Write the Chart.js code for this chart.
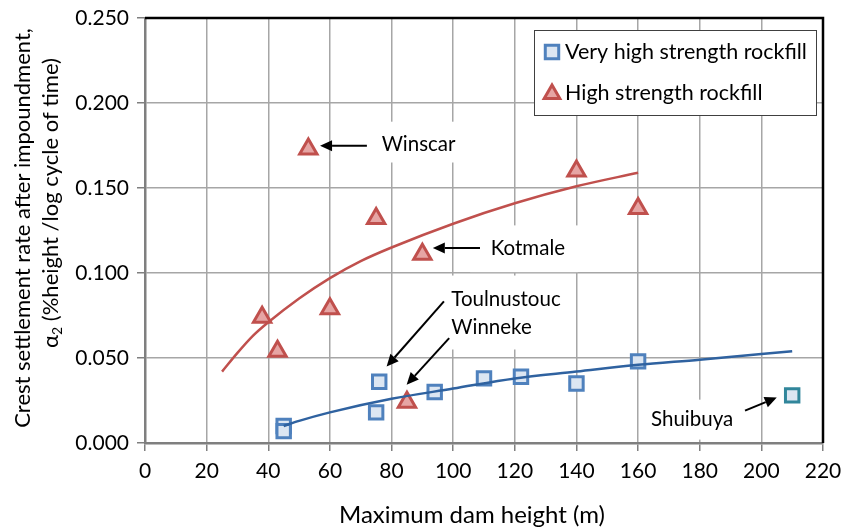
<!DOCTYPE html>
<html>
<head>
<meta charset="utf-8">
<script src="https://cdn.jsdelivr.net/npm/chart.js@4.4.1/dist/chart.umd.min.js"></script>
<style>
    html, body { margin: 0; padding: 0; background: #fff; }
    #wrap { width: 843px; height: 529px; }
</style>
</head>
<body>
<div id="wrap"><canvas id="myChart" width="843" height="529"></canvas></div>
<script>
// Very high strength rockfill (squares)
const vhsHeight = [45, 45, 75, 76, 94, 110, 122, 140, 160];
const vhsRate = [0.010, 0.007, 0.018, 0.036, 0.030, 0.038, 0.039, 0.035, 0.048];
// Shuibuya (square with teal outline)
const shuiHeight = [210];
const shuiRate = [0.028];
// High strength rockfill (triangles)
const hsHeight = [38, 43, 53, 60, 75, 85, 90, 140, 160];
const hsRate = [0.074, 0.054, 0.173, 0.079, 0.132, 0.024, 0.111, 0.160, 0.138];
// trend lines
const vhsTrendX = [45, 50, 60, 80, 100, 120, 140, 160, 180, 210];
const vhsTrendY = [0.010, 0.013, 0.018, 0.026, 0.032, 0.038, 0.042, 0.046, 0.049, 0.054];
const hsTrendX = [25, 30, 35, 40, 50, 60, 70, 80, 100, 120, 140, 160];
const hsTrendY = [0.042, 0.053, 0.063, 0.071, 0.085, 0.097, 0.107, 0.115, 0.129, 0.141, 0.151, 0.159];
// axis ticks
const xTicks = [0, 20, 40, 60, 80, 100, 120, 140, 160, 180, 200, 220];
const yTicks = [0, 0.05, 0.10, 0.15, 0.20, 0.25];

const legendNames = ['Very high strength rockfill', 'High strength rockfill'];
const xTitle = 'Maximum dam height (m)';
const yTitle1 = 'Crest settlement rate after impoundment,';
const yTitle2 = ' (%height /log cycle of time)';

const FONT = 'Lato, "Open Sans", sans-serif';

// dam name labels (data coords), white boxes behind them and arrows
const notes = [
    { lines: ['Winscar'], x: 76.8, y: 0.1754, box: [73, 0.189, 103, 0.165],
      arrows: [[72, 0.1748, 56.8, 0.1748]] },
    { lines: ['Kotmale'], x: 112.2, y: 0.1147, box: [105.5, 0.128, 140.5, 0.1005],
      arrows: [[108.7, 0.1147, 93.4, 0.1147]] },
    { lines: ['Toulnustouc', 'Winneke'], x: 99.4, y: 0.0843, box: [95.7, 0.0985, 139.5, 0.055],
      arrows: [[97.0, 0.0833, 78.4, 0.0450], [98.7, 0.0617, 84.9, 0.0343]] },
    { lines: ['Shuibuya'], x: 164.2, y: 0.0137, box: [160.6, 0.0255, 196, 0.002],
      arrows: [[194.7, 0.0190, 205.0, 0.0268]] }
];

const squareStyle = { pointStyle: 'rect', radius: 9.5, borderWidth: 3, borderColor: '#4f81bd', backgroundColor: '#dce6f2' };
const triangleStyle = { pointStyle: 'triangle', radius: 10, borderWidth: 3, borderColor: '#c0504d', backgroundColor: '#e6a5a4' };

function toPoints(xs, ys) {
    return xs.map((v, i) => ({ x: v, y: ys[i] }));
}

function drawArrow(ctx, x0, y0, x1, y1) {
    const ang = Math.atan2(y1 - y0, x1 - x0);
    const head = 12, half = 5.5;
    const bx = x1 - head * Math.cos(ang);
    const by = y1 - head * Math.sin(ang);
    ctx.beginPath();
    ctx.moveTo(x0, y0);
    ctx.lineTo(bx, by);
    ctx.stroke();
    ctx.beginPath();
    ctx.moveTo(x1, y1);
    ctx.lineTo(bx - half * Math.sin(ang), by + half * Math.cos(ang));
    ctx.lineTo(bx + half * Math.sin(ang), by - half * Math.cos(ang));
    ctx.closePath();
    ctx.fill();
}

function drawMarker(ctx, st, x, y) {
    ctx.save();
    ctx.fillStyle = st.backgroundColor;
    ctx.strokeStyle = st.borderColor;
    ctx.lineWidth = st.borderWidth;
    Chart.helpers.drawPoint(ctx, { pointStyle: st.pointStyle, radius: st.radius, rotation: 0, borderWidth: st.borderWidth }, x, y);
    ctx.restore();
}

const notesPlugin = {
    id: 'notes',
    beforeDatasetsDraw(chart) {
        const { ctx, chartArea: a, scales: { x, y } } = chart;
        ctx.save();
        ctx.fillStyle = '#fff';
        notes.forEach(n => {
            const l = x.getPixelForValue(n.box[0]), r = x.getPixelForValue(n.box[2]);
            const t = y.getPixelForValue(n.box[1]), b = y.getPixelForValue(n.box[3]);
            ctx.fillRect(l, t, r - l, b - t);
        });
        // black frame on top and right
        ctx.strokeStyle = '#000';
        ctx.lineWidth = 2.5;
        ctx.beginPath();
        ctx.moveTo(a.left, a.top);
        ctx.lineTo(a.right, a.top);
        ctx.lineTo(a.right, a.bottom);
        ctx.stroke();
        ctx.restore();
    },
    afterDatasetsDraw(chart) {
        const { ctx, chartArea: a, scales: { x, y } } = chart;
        ctx.save();
        ctx.fillStyle = '#000';
        ctx.strokeStyle = '#000';
        ctx.lineWidth = 2;
        ctx.font = '20.5px ' + FONT;
        ctx.textBaseline = 'middle';
        ctx.textAlign = 'left';
        notes.forEach(n => {
            n.lines.forEach((line, i) => {
                ctx.fillText(line, x.getPixelForValue(n.x), y.getPixelForValue(n.y) + i * 28);
            });
            n.arrows.forEach(ar => {
                drawArrow(ctx, x.getPixelForValue(ar[0]), y.getPixelForValue(ar[1]),
                    x.getPixelForValue(ar[2]), y.getPixelForValue(ar[3]));
            });
        });

        // legend box inside the plot
        const lx = a.right - 289, ly = a.top + 12;
        ctx.fillStyle = '#fff';
        ctx.fillRect(lx, ly, 282, 85);
        ctx.strokeStyle = '#404040';
        ctx.lineWidth = 1;
        ctx.strokeRect(lx + 0.5, ly + 0.5, 282, 85);
        drawMarker(ctx, squareStyle, lx + 18, ly + 22);
        drawMarker(ctx, Object.assign({}, triangleStyle, { radius: 9 }), lx + 18, ly + 64);
        ctx.fillStyle = '#000';
        ctx.font = '21.5px ' + FONT;
        ctx.fillText(legendNames[0], lx + 31, ly + 22);
        ctx.fillText(legendNames[1], lx + 31, ly + 63);
        ctx.restore();
    },
    afterDraw(chart) {
        const { ctx } = chart;
        ctx.save();
        ctx.fillStyle = '#000';
        ctx.textAlign = 'center';
        ctx.textBaseline = 'middle';
        ctx.font = '24px ' + FONT;
        ctx.fillText(xTitle, 472, 515);

        // y title, rotated
        ctx.font = '22px ' + FONT;
        ctx.translate(23, 228);
        ctx.rotate(-Math.PI / 2);
        ctx.fillText(yTitle1, 0, 0);
        ctx.translate(25, 28);
        const w2 = ctx.measureText(yTitle2).width;
        const wa = ctx.measureText('\u03b1').width;
        ctx.font = '14px ' + FONT;
        const ws = ctx.measureText('2').width;
        const total = wa + ws + w2;
        ctx.textAlign = 'left';
        ctx.font = '22px ' + FONT;
        ctx.fillText('\u03b1', -total / 2, 0);
        ctx.font = '14px ' + FONT;
        ctx.fillText('2', -total / 2 + wa, 6);
        ctx.font = '22px ' + FONT;
        ctx.fillText(yTitle2, -total / 2 + wa + ws, 0);
        ctx.restore();
    }
};

new Chart('myChart', {
    type: 'scatter',
    data: {
        datasets: [
            {
                label: 'vhs trend',
                data: toPoints(vhsTrendX, vhsTrendY),
                showLine: true,
                borderColor: '#2f62a0',
                borderWidth: 2.5,
                pointRadius: 0,
                cubicInterpolationMode: 'monotone'
            },
            {
                label: 'hs trend',
                data: toPoints(hsTrendX, hsTrendY),
                showLine: true,
                borderColor: '#c0504d',
                borderWidth: 2.5,
                pointRadius: 0,
                cubicInterpolationMode: 'monotone'
            },
            {
                label: legendNames[0],
                data: toPoints(vhsHeight, vhsRate),
                pointStyle: squareStyle.pointStyle,
                pointRadius: squareStyle.radius,
                pointBorderWidth: squareStyle.borderWidth,
                pointBorderColor: squareStyle.borderColor,
                pointBackgroundColor: squareStyle.backgroundColor
            },
            {
                label: 'Shuibuya',
                data: toPoints(shuiHeight, shuiRate),
                pointStyle: 'rect',
                pointRadius: squareStyle.radius,
                pointBorderWidth: squareStyle.borderWidth,
                pointBorderColor: '#31869b',
                pointBackgroundColor: squareStyle.backgroundColor
            },
            {
                label: legendNames[1],
                data: toPoints(hsHeight, hsRate),
                pointStyle: triangleStyle.pointStyle,
                pointRadius: triangleStyle.radius,
                pointBorderWidth: triangleStyle.borderWidth,
                pointBorderColor: triangleStyle.borderColor,
                pointBackgroundColor: triangleStyle.backgroundColor
            }
        ]
    },
    options: {
        responsive: false,
        animation: false,
        events: [],
        layout: { padding: { left: 0, top: 18, right: 20, bottom: 0 } },
        plugins: {
            legend: { display: false },
            tooltip: { enabled: false }
        },
        scales: {
            x: {
                type: 'linear',
                min: 0,
                max: 220,
                afterFit: scale => {
                    scale.height = 86;
                    scale.paddingLeft = 0;
                    scale.paddingRight = 0;
                },
                afterBuildTicks: scale => { scale.ticks = xTicks.map(v => ({ value: v })); },
                grid: { color: '#a6a6a6', lineWidth: 1.5, tickLength: 8, tickColor: '#7f7f7f' },
                border: { color: '#7f7f7f', width: 2.5 },
                ticks: { color: '#000', font: { family: FONT, size: 21 }, padding: 8, maxRotation: 0 }
            },
            y: {
                min: 0,
                max: 0.25,
                afterFit: scale => {
                    scale.width = 145;
                    scale.paddingTop = 0;
                    scale.paddingBottom = 0;
                },
                afterBuildTicks: scale => { scale.ticks = yTicks.map(v => ({ value: v })); },
                grid: { color: '#a6a6a6', lineWidth: 1.5, tickLength: 8, tickColor: '#7f7f7f' },
                border: { color: '#7f7f7f', width: 2.5 },
                ticks: {
                    color: '#000',
                    font: { family: FONT, size: 21 },
                    padding: 8,
                    callback: v => v.toFixed(3)
                }
            }
        }
    },
    plugins: [notesPlugin]
});
</script>
</body>
</html>
